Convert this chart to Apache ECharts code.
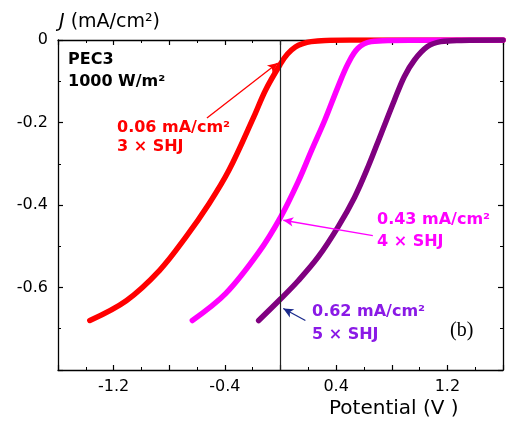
<!DOCTYPE html>
<html>
<head>
<meta charset="utf-8">
<script src="https://cdn.jsdelivr.net/npm/echarts@6/dist/echarts.min.js"></script>
<style>html,body{margin:0;padding:0;background:#fff;}#c{width:506px;height:426px;}</style>
</head>
<body>
<div id="c"></div>
<script>
// ---- data ----
const redX = [-1.371, -1.109, -0.871, -0.681, -0.514, -0.371, -0.193, -0.107, 0.0, 0.05, 0.107, 0.16, 0.22, 0.32, 0.5, 1.0, 1.6];
const redY = [-0.68, -0.632, -0.559, -0.478, -0.397, -0.316, -0.187, -0.121, -0.058, -0.034, -0.017, -0.009, -0.004, -0.001, 0, 0, 0];

const magX = [-0.634, -0.395, -0.157, 0.0, 0.129, 0.224, 0.319, 0.414, 0.486, 0.557, 0.652, 0.8, 1.2, 1.6];
const magY = [-0.68, -0.615, -0.515, -0.43, -0.342, -0.267, -0.194, -0.113, -0.057, -0.02, -0.004, -0.001, 0, 0];

const purX = [-0.157, 0.0, 0.129, 0.271, 0.414, 0.533, 0.629, 0.724, 0.819, 0.89, 0.962, 1.057, 1.152, 1.3, 1.6];
const purY = [-0.68, -0.628, -0.583, -0.526, -0.453, -0.381, -0.308, -0.227, -0.146, -0.089, -0.049, -0.016, -0.004, -0.001, 0];

const xLabelTicks = [-1.2, -0.4, 0.4, 1.2];
const yLabelTicks = [0, -0.2, -0.4, -0.6];

// annotation arrows: [fromX, fromY, toX, toY]
const redArrow = [-0.529, -0.189, -0.02, -0.056];
const magArrow = [0.664, -0.474, 0.02, -0.437];
const purArrow = [0.179, -0.68, 0.02, -0.651];

const zip = (xs, ys) => xs.map((x, i) => [x, ys[i]]);
const SANS = '"DejaVu Sans", sans-serif';

const chart = echarts.init(document.getElementById('c'), null, {renderer: 'canvas'});

function arrowLine(a, color) {
  return {
    silent: true,
    symbol: ['none', 'arrow'],
    symbolSize: [7, 10],
    label: {show: false},
    lineStyle: {color: color, width: 1.3, type: 'solid'},
    data: [[{coord: [a[0], a[1]]}, {coord: [a[2], a[3]]}]]
  };
}

const xCommon = {
  type: 'value', min: -1.6, max: 1.6, interval: 0.4,
  axisLine: {show: true, onZero: false, lineStyle: {color: '#000', width: 1.3}},
  axisTick: {show: true, inside: true, length: 5, lineStyle: {color: '#000', width: 1.2}},
  minorTick: {show: true, splitNumber: 2, length: 3, lineStyle: {color: '#000', width: 1}},
  splitLine: {show: false}
};
const yCommon = {
  type: 'value', min: -0.8, max: 0, interval: 0.2,
  axisLine: {show: true, onZero: false, lineStyle: {color: '#000', width: 1.3}},
  axisTick: {show: true, inside: true, length: 5, lineStyle: {color: '#000', width: 1.2}},
  minorTick: {show: true, splitNumber: 2, length: 3, lineStyle: {color: '#000', width: 1}},
  splitLine: {show: false}
};

const curveLine = color => ({color: color, width: 5.5, cap: 'round', join: 'round'});

const option = {
  animation: false,
  backgroundColor: '#fff',
  grid: {left: 58, right: -1, top: 40, bottom: 56},
  xAxis: [
    Object.assign({}, xCommon, {
      position: 'bottom',
      axisLabel: {
        show: true, margin: 9, color: '#000', fontSize: 16, fontFamily: SANS,
        formatter: v => xLabelTicks.some(t => Math.abs(t - v) < 1e-6) ? String(v) : ''
      }
    }),
    Object.assign({}, xCommon, {position: 'top', axisLabel: {show: false}})
  ],
  yAxis: [
    Object.assign({}, yCommon, {
      position: 'left',
      axisLabel: {
        show: true, margin: 10, color: '#000', fontSize: 16, fontFamily: SANS,
        formatter: v => yLabelTicks.some(t => Math.abs(t - v) < 1e-6) ? (Math.abs(v) < 1e-9 ? '0' : String(v)) : ''
      }
    }),
    Object.assign({}, yCommon, {position: 'right', axisLabel: {show: false}})
  ],
  series: [
    {
      type: 'line', data: [], z: 2,
      markLine: {
        silent: true, symbol: ['none', 'none'], label: {show: false},
        lineStyle: {color: '#222', width: 1.2, type: 'solid'},
        data: [{xAxis: 0}]
      }
    },
    {
      type: 'line', data: zip(redX, redY), smooth: 0.35, showSymbol: false, symbol: 'none',
      lineStyle: curveLine('#ff0000'), z: 3,
      markLine: arrowLine(redArrow, '#ff0000')
    },
    {
      type: 'line', data: zip(magX, magY), smooth: 0.35, showSymbol: false, symbol: 'none',
      lineStyle: curveLine('#ff00ff'), z: 3,
      markLine: arrowLine(magArrow, '#ff00ff')
    },
    {
      type: 'line', data: zip(purX, purY), smooth: 0.35, showSymbol: false, symbol: 'none',
      lineStyle: curveLine('#800080'), z: 3,
      markLine: arrowLine(purArrow, '#1a2a8c')
    }
  ],
  graphic: [
    {type: 'text', left: 59, top: 13, style: {
      text: '{i|J} (mA/cm²)', fill: '#000', font: '19px ' + SANS,
      rich: {i: {fontStyle: 'italic', fontSize: 19, fontFamily: SANS, fill: '#000'}}
    }},
    {type: 'text', left: 329, top: 399, style: {text: 'Potential (V )', fill: '#000', font: '20px ' + SANS}},
    {type: 'text', left: 68, top: 52, style: {text: 'PEC3', fill: '#000', font: 'bold 16px ' + SANS}},
    {type: 'text', left: 68, top: 74, style: {text: '1000 W/m²', fill: '#000', font: 'bold 16px ' + SANS}},
    {type: 'text', left: 117, top: 120, style: {text: '0.06 mA/cm²', fill: '#ff0000', font: 'bold 16px ' + SANS}},
    {type: 'text', left: 117, top: 139, style: {text: '3 × SHJ', fill: '#ff0000', font: 'bold 16px ' + SANS}},
    {type: 'text', left: 377, top: 212, style: {text: '0.43 mA/cm²', fill: '#ff00ff', font: 'bold 16px ' + SANS}},
    {type: 'text', left: 377, top: 234, style: {text: '4 × SHJ', fill: '#ff00ff', font: 'bold 16px ' + SANS}},
    {type: 'text', left: 312, top: 304, style: {text: '0.62 mA/cm²', fill: '#8a1ae6', font: 'bold 16px ' + SANS}},
    {type: 'text', left: 312, top: 327, style: {text: '5 × SHJ', fill: '#8a1ae6', font: 'bold 16px ' + SANS}},
    {type: 'text', left: 450, top: 321, style: {text: '(b)', fill: '#000', font: '20px "Liberation Serif", serif'}}
  ]
};
chart.setOption(option);
</script>
</body>
</html>
